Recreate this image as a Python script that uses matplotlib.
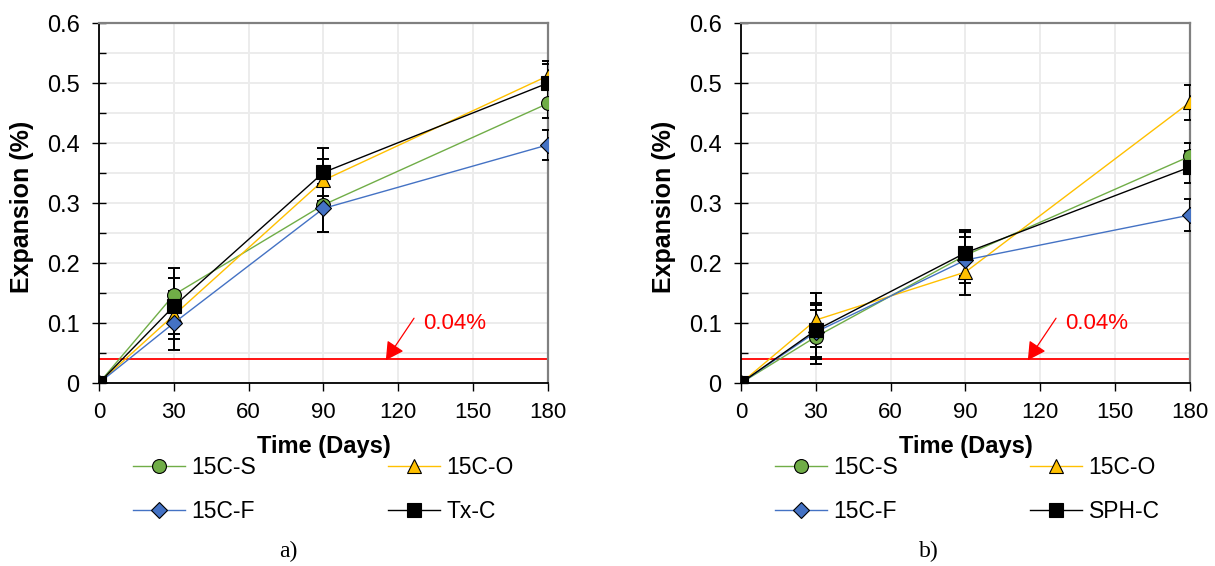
import numpy as np
import matplotlib.pyplot as plt

plt.rcParams['font.family'] = ['Liberation Sans', 'DejaVu Sans']

days = [0, 30, 90, 180]

# a) series
a_names = ['15C-S', '15C-O', '15C-F', 'Tx-C']
a_vals = [
    [0, 0.147, 0.297, 0.466],
    [0, 0.113, 0.338, 0.512],
    [0, 0.100, 0.291, 0.397],
    [0, 0.128, 0.351, 0.500],
]
a_err = [
    [0, 0.045, 0.045, 0.024],
    [0, 0.040, 0.035, 0.020],
    [0, 0.045, 0.040, 0.025],
    [0, 0.047, 0.040, 0.037],
]

# b) series
b_names = ['15C-S', '15C-O', '15C-F', 'SPH-C']
b_vals = [
    [0, 0.077, 0.213, 0.378],
    [0, 0.105, 0.185, 0.468],
    [0, 0.085, 0.205, 0.280],
    [0, 0.088, 0.217, 0.360],
]
b_err = [
    [0, 0.045, 0.038, 0.022],
    [0, 0.045, 0.038, 0.029],
    [0, 0.045, 0.038, 0.027],
    [0, 0.045, 0.038, 0.027],
]

limit = 0.04
colors = ['#70AD47', '#FFC000', '#4472C4', 'black']
markers = ['o', '^', 'D', 's']
msizes = [10, 10, 8, 10]


def draw(ax, names, vals, errs):
    handles = []
    for name, v, e, c, m, ms in zip(names, vals, errs, colors, markers, msizes):
        ax.errorbar(days, v, yerr=e, fmt='none', ecolor='black',
                    elinewidth=1.4, capsize=4.2, capthick=1.4, zorder=3)
        h, = ax.plot(days, v, color=c, lw=1, marker=m, ms=ms,
                     markerfacecolor=c, markeredgecolor='black',
                     markeredgewidth=0.8, label=name, zorder=4)
        handles.append(h)

    # 0.04% limit line with its callout
    ax.axhline(limit, color='red', lw=1.3, zorder=2)
    ax.annotate('', xy=(115, limit - 0.002), xytext=(126.3, 0.108),
                arrowprops=dict(arrowstyle='-|>,head_length=0.55,head_width=0.3',
                                color='red', lw=0.9, mutation_scale=20,
                                shrinkA=0, shrinkB=0))
    ax.text(129.8, 0.100, '0.04%', color='red', fontsize=16, va='center')

    ax.set_xlim(0, 180)
    ax.set_ylim(0, 0.6)
    ax.set_xticks([0, 30, 60, 90, 120, 150, 180])
    ax.set_yticks(np.arange(0, 0.61, 0.1))
    ax.set_yticks(np.arange(0.05, 0.6, 0.1), minor=True)
    ax.set_yticklabels(['0', '0.1', '0.2', '0.3', '0.4', '0.5', '0.6'])
    ax.tick_params(axis='x', which='major', labelsize=16, direction='out',
                   length=6, width=1, pad=8)
    ax.tick_params(axis='y', which='major', labelsize=17, direction='inout',
                   length=10, width=1, pad=9)
    ax.tick_params(axis='y', which='minor', direction='in', length=5, width=1)
    ax.grid(True, which='both', color='#ececec', lw=1.4, zorder=0)
    ax.set_axisbelow(True)
    for s in ['top', 'right']:
        ax.spines[s].set_color('#808080')
        ax.spines[s].set_linewidth(1.6)
    for s in ['left', 'bottom']:
        ax.spines[s].set_linewidth(1.3)

    ax.set_xlabel('Time (Days)', fontsize=17, fontweight='bold')
    ax.xaxis.set_label_coords(0.5, -0.145)
    ax.set_ylabel('Expansion (%)', fontsize=18, fontweight='bold')
    ax.yaxis.set_label_coords(-0.145, 0.49)

    order = [0, 2, 1, 3]
    ax.legend([handles[i] for i in order], [names[i] for i in order],
              ncol=2, loc='upper left', bbox_to_anchor=(0.076, -0.203),
              borderaxespad=0, borderpad=0, frameon=False, fontsize=16.5,
              handlelength=2.27, columnspacing=5.75, labelspacing=0.9,
              handletextpad=0.28)


fig = plt.figure(figsize=(12.15, 5.66), dpi=100)
ax1 = fig.add_axes([0.0815, 0.3233, 0.3695, 0.636])
ax2 = fig.add_axes([0.6099, 0.3233, 0.3695, 0.636])

draw(ax1, a_names, a_vals, a_err)
draw(ax2, b_names, b_vals, b_err)

fig.text(288 / 1215, 1 - 551 / 566, 'a)', ha='center', va='center',
         fontsize=17, family='Liberation Serif')
fig.text(929 / 1215, 1 - 551 / 566, 'b)', ha='center', va='center',
         fontsize=17, family='Liberation Serif')

fig.savefig('out.png', dpi=100)
